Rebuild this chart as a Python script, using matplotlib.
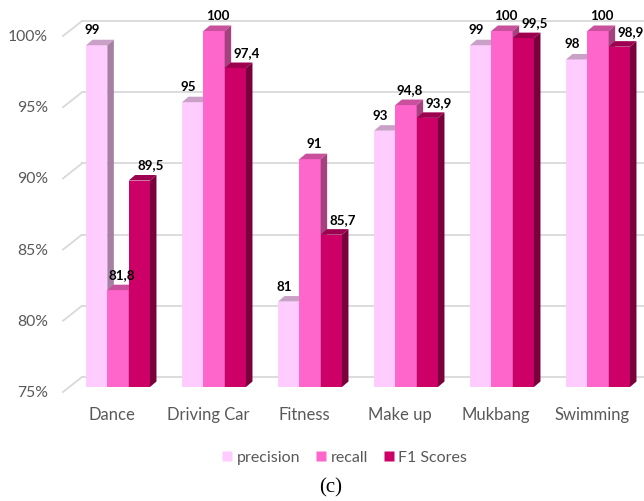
import matplotlib
matplotlib.use("Agg")
import matplotlib.pyplot as plt
from matplotlib.patches import Polygon, Rectangle
from matplotlib.lines import Line2D

categories = ["Dance", "Driving Car", "Fitness", "Make up", "Mukbang", "Swimming"]
series_names = ["precision", "recall", "F1 Scores"]
precision = [99, 95, 81, 93, 99, 98]
recall = [81.8, 100, 91, 94.8, 100, 100]
f1_scores = [89.5, 97.4, 85.7, 93.9, 99.5, 98.9]
y_ticks = [75, 80, 85, 90, 95, 100]

series = [precision, recall, f1_scores]

# colours: front, top, side for each series
front_cols = ["#FFCCFF", "#FF66CC", "#CC0066"]
top_cols = ["#C9A0C6", "#C8509C", "#9C004F"]
side_cols = ["#A87FA4", "#A5417F", "#7A003D"]

plt.rcParams["font.family"] = ["Lato", "DejaVu Sans"]

W, H = 644, 502
fig = plt.figure(figsize=(W / 100, H / 100), dpi=100)

# layout of the bar plane, in pixels
left_px, right_px = 69, 640
bottom_px, top_px = 388, 32
center0_px, pitch_px = 118, 96

ax = fig.add_axes([left_px / W, (H - bottom_px) / H,
                   (right_px - left_px) / W, (bottom_px - top_px) / H])
x0 = (left_px - center0_px) / pitch_px
x1 = (right_px - center0_px) / pitch_px
ax.set_xlim(x0, x1)
ax.set_ylim(75, 100)
ax.axis("off")

px_x = pitch_px          # pixels per x unit
px_y = (bottom_px - top_px) / 25.0   # pixels per y unit

def dxu(p):
    return p / px_x

def dyu(p):
    return p / px_y

# wall geometry offsets (pixels): front plane and back wall relative to bars
front_dx, front_dy = -6, -5
back_dx, back_dy = 13, 10
grid_col = "#D9D9D9"

for v in y_ticks:
    # back wall gridline
    ax.add_line(Line2D([x0 + dxu(back_dx), x1 + dxu(back_dx) + dxu(10)],
                       [v + dyu(back_dy)] * 2, color=grid_col, lw=1.3,
                       clip_on=False, zorder=1))
    # side wall diagonal
    ax.add_line(Line2D([x0 + dxu(front_dx), x0 + dxu(back_dx)],
                       [v + dyu(front_dy), v + dyu(back_dy)],
                       color=grid_col, lw=1.3, clip_on=False, zorder=1))
    ax.text(x0 + dxu(front_dx) - dxu(15), v + dyu(front_dy), f"{v}%",
            ha="right", va="center", fontsize=11.3, color="#595959")

bar_w = 0.222
depth_dx, depth_dy = dxu(6.5), dyu(5.5)
label_nudge = [-4, 4, 11]

z = 2
for i, cat in enumerate(categories):
    for s, vals in enumerate(series):
        v = vals[i]
        xl = i + (s - 1) * bar_w - bar_w / 2
        xr = xl + bar_w
        ax.add_patch(Rectangle((xl, 75), bar_w, v - 75, facecolor=front_cols[s],
                               edgecolor="none", clip_on=False, zorder=z))
        ax.add_patch(Polygon([(xl, v), (xr, v), (xr + depth_dx, v + depth_dy),
                              (xl + depth_dx, v + depth_dy)], closed=True,
                             facecolor=top_cols[s], edgecolor="none",
                             clip_on=False, zorder=z))
        ax.add_patch(Polygon([(xr, 75), (xr + depth_dx, 75 + depth_dy),
                              (xr + depth_dx, v + depth_dy), (xr, v)], closed=True,
                             facecolor=side_cols[s], edgecolor="none",
                             clip_on=False, zorder=z))
        z += 1
        txt = f"{v:g}".replace(".", ",")
        ax.text((xl + xr) / 2 + dxu(label_nudge[s]), v + dyu(16), txt,
                ha="center", va="center", fontsize=9.6, fontweight="bold",
                color="#000000", zorder=50, clip_on=False)
    ax.text(i + dxu(front_dx), 75 + dyu(front_dy) - dyu(22), cat,
            ha="center", va="center", fontsize=12, color="#595959")

handles = [Line2D([], [], marker="s", linestyle="none", markersize=7,
                  markerfacecolor=c, markeredgecolor="none") for c in front_cols]
fig.legend(handles, series_names, loc="center", bbox_to_anchor=(343 / W, 1 - 458 / H),
           ncol=3, frameon=False, fontsize=11.5, labelcolor="#595959",
           handletextpad=0.1, columnspacing=0.8, handlelength=1.0)

fig.text(331 / W, 1 - 488 / H, "(c)", ha="center", va="center",
         fontsize=15, family="Liberation Serif", color="#000000")

fig.savefig("out.png", dpi=100, facecolor="white")
